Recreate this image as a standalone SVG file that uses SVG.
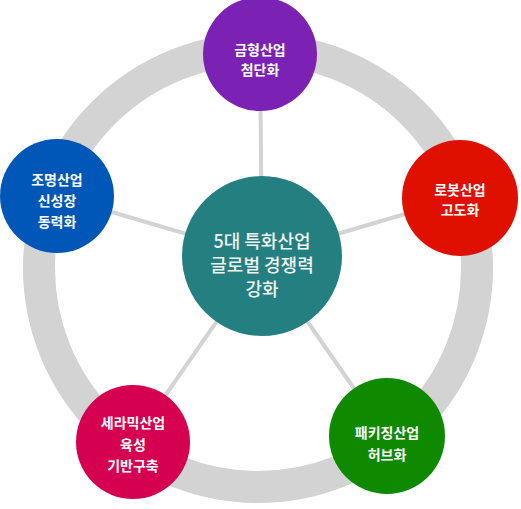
<svg xmlns="http://www.w3.org/2000/svg" width="521" height="509" viewBox="0 0 521 509">
<style>
.ring{fill:none;stroke:#d3d3d3;stroke-width:32}
.spoke{stroke:#d3d3d3;stroke-width:4}
.lbl{font-family:"Noto Sans CJK KR","Noto Sans",sans-serif;font-size:14px;font-weight:bold;fill:#ffffff;text-anchor:middle}
.ctr{font-family:"Noto Sans CJK KR","Noto Sans",sans-serif;font-size:18px;font-weight:500;fill:#f2f2f2;text-anchor:middle}
</style>
<rect width="521" height="509" fill="#ffffff"/>
<circle class="ring" cx="258" cy="268" r="219"/>
<g id="connectors">
<line class="spoke" x1="262" y1="256" x2="260" y2="55"/>
<line class="spoke" x1="262" y1="256" x2="57" y2="196"/>
<line class="spoke" x1="262" y1="256" x2="460" y2="198"/>
<line class="spoke" x1="262" y1="256" x2="133" y2="442"/>
<line class="spoke" x1="262" y1="256" x2="387" y2="436"/>
</g>
<g id="center">
<circle cx="262" cy="256" r="80" fill="#248080"/>
<text class="ctr"><tspan x="262" y="248">5대 특화산업</tspan><tspan x="262" y="272">글로벌 경쟁력</tspan><tspan x="262" y="296">강화</tspan></text>
</g>
<g id="node-mold">
<circle cx="260" cy="54" r="57" fill="#7b22b4"/>
<text class="lbl"><tspan x="260" y="55">금형산업</tspan><tspan x="260" y="75">첨단화</tspan></text>
</g>
<g id="node-lighting">
<circle cx="57" cy="196" r="57" fill="#0057b8"/>
<text class="lbl"><tspan x="57" y="185">조명산업</tspan><tspan x="57" y="206">신성장</tspan><tspan x="57" y="227">동력화</tspan></text>
</g>
<g id="node-robot">
<circle cx="460" cy="198" r="58" fill="#e01000"/>
<text class="lbl"><tspan x="460" y="195">로봇산업</tspan><tspan x="460" y="215">고도화</tspan></text>
</g>
<g id="node-ceramic">
<circle cx="133" cy="442" r="57" fill="#d5004f"/>
<text class="lbl"><tspan x="133" y="428">세라믹산업</tspan><tspan x="133" y="450">육성</tspan><tspan x="133" y="471">기반구축</tspan></text>
</g>
<g id="node-packaging">
<circle cx="387" cy="436" r="58" fill="#0f8a00"/>
<text class="lbl"><tspan x="387" y="438">패키징산업</tspan><tspan x="387" y="460">허브화</tspan></text>
</g>
</svg>
